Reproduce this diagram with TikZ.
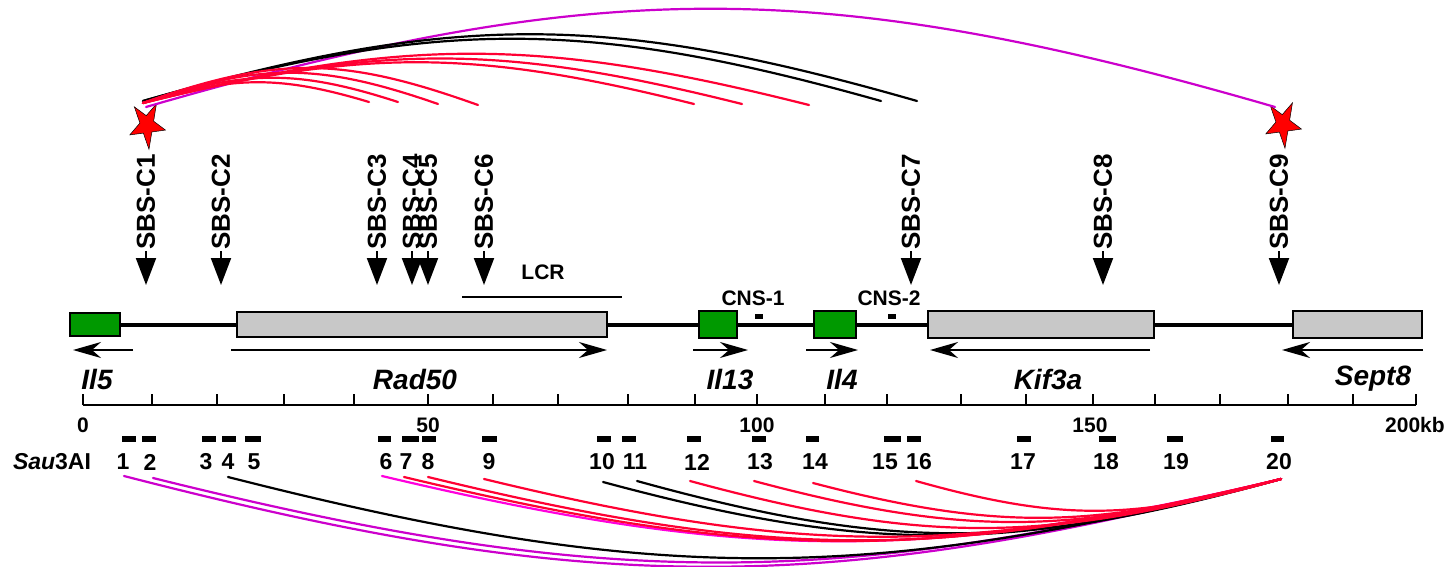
\documentclass[tikz,border=0pt]{standalone}
\usepackage{fontspec}
\setmainfont{Liberation Sans}
\usetikzlibrary{shapes.geometric,arrows.meta}
\definecolor{arcred}{HTML}{FF0033}
\definecolor{arcmag}{HTML}{CC00CC}
\definecolor{arcpink}{HTML}{FF00DD}
\definecolor{genegreen}{HTML}{009900}
\definecolor{genegray}{HTML}{C8C8C8}
\tikzset{
  track/.style={line width=4pt},
  graybox/.style={draw, line width=2pt, fill=genegray, inner sep=0pt},
  greenbox/.style={draw, line width=2pt, fill=genegreen, inner sep=0pt},
  cnsbox/.style={fill=black, inner sep=0pt, minimum width=8pt, minimum height=5pt},
  fragbox/.style={fill=black, inner sep=0pt, minimum height=6pt},
  dirarrow/.style={line width=2pt, -{Stealth[length=28pt,width=16pt,inset=9pt]}},
  sbsarrow/.style={line width=2pt, -{Triangle[length=27pt,width=20pt]}},
  sbslabel/.style={rotate=90, anchor=west, inner sep=1pt, font=\fontsize{26}{26}\selectfont\bfseries},
  genelabel/.style={inner sep=0pt, font=\fontsize{28}{28}\selectfont\bfseries\itshape},
  smalllabel/.style={inner sep=0pt, font=\fontsize{21}{21}\selectfont\bfseries},
  fraglabel/.style={inner sep=0pt, font=\fontsize{23}{23}\selectfont\bfseries},
  loop/.style={line width=2.2pt, line cap=round},
  redloop/.style={loop, draw=arcred},
  magloop/.style={loop, draw=arcmag},
  pinkloop/.style={loop, draw=arcpink},
  blackloop/.style={loop, draw=black},
  sitestar/.style={star, star points=5, star point ratio=2.6, shape border rotate=186,
    fill=red, draw=black, line width=0.5pt, minimum size=46pt, inner sep=0pt,
    xscale=0.82, yscale=1.06},
}
\begin{document}
\begin{tikzpicture}[x=1pt,y=-1pt]
\useasboundingbox (0,0) rectangle (1454,567);

% ---------- gene boxes ----------
\node[greenbox, minimum width=50pt, minimum height=23pt] (il5) at (95,324.5) {};
\node[graybox, minimum width=370pt, minimum height=25pt] (rad50) at (422,324.5) {};
\node[greenbox, minimum width=38pt, minimum height=27pt] (il13) at (718,324.5) {};
\node[greenbox, minimum width=42pt, minimum height=27pt] (il4) at (835,324.5) {};
\node[graybox, minimum width=226pt, minimum height=27pt] (kif3a) at (1041,324.5) {};
\node[graybox, minimum width=129pt, minimum height=27pt] (sept8) at (1357.5,324.5) {};

\draw[track] (il5.east) -- (rad50.west);
\draw[track] (rad50.east) -- (il13.west);
\draw[track] (il13.east) -- (il4.west);
\draw[track] (il4.east) -- (kif3a.west);
\draw[track] (kif3a.east) -- (sept8.west);

% CNS elements
\node[cnsbox] (cns1) at (759,316.5) {};
\node[cnsbox] (cns2) at (891.5,316.5) {};
\node[smalllabel] (cns1lab) at (753,298) {CNS-1};
\node[smalllabel] (cns2lab) at (889,298) {CNS-2};

% LCR
\coordinate (lcrl) at (462,297);
\coordinate (lcrr) at (622,297);
\draw[line width=2pt] (lcrl) -- (lcrr);
\node[smalllabel] (lcrlab) at (543,272) {LCR};

% ---------- transcription direction ----------
\coordinate (d5a) at (133,350);  \coordinate (d5b) at (73,350);
\coordinate (dra) at (231,350);  \coordinate (drb) at (607,350);
\coordinate (d13a) at (693,350); \coordinate (d13b) at (748,350);
\coordinate (d4a) at (806,350);  \coordinate (d4b) at (858,350);
\coordinate (dka) at (1150,350); \coordinate (dkb) at (930,350);
\coordinate (dsa) at (1423,350); \coordinate (dsb) at (1282,350);
\draw[dirarrow] (d5a) -- (d5b);
\draw[dirarrow] (dra) -- (drb);
\draw[dirarrow] (d13a) -- (d13b);
\draw[dirarrow] (d4a) -- (d4b);
\draw[dirarrow] (dka) -- (dkb);
\draw[dirarrow] (dsa) -- (dsb);

\node[genelabel] (l5) at (97,379) {Il5};
\node[genelabel] (lr) at (415,379) {Rad50};
\node[genelabel] (l13) at (730,379) {Il13};
\node[genelabel] (l4) at (842,379) {Il4};
\node[genelabel] (lk) at (1048,379) {Kif3a};
\node[genelabel] (ls) at (1373,379) {Sept8};

% ---------- scale ----------
\coordinate (ax0) at (83,405);
\coordinate (ax1) at (1416,405);
\draw[line width=2.5pt] (ax0) -- (ax1);
\foreach \t in {83,152,217,284,354,428,493,558,628,695,757,825,887,961,1026,1093,1155,1220,1288,1353,1416}
  \draw[line width=2pt] (\t,405) -- (\t,394);
\node[smalllabel] (k0) at (83,425) {0};
\node[smalllabel] (k50) at (428,425) {50};
\node[smalllabel] (k100) at (757,425) {100};
\node[smalllabel] (k150) at (1090,425) {150};
\node[smalllabel, anchor=west] (k200) at (1385,425) {200kb};

% ---------- Sau3AI fragments ----------
\node[fraglabel] (sau) at (52,462) {\textit{Sau}3AI};
\foreach \n/\a/\b/\lx in {1/122/136/123, 2/142/156/150, 3/202/216/206, 4/222/236/228,
   5/245/261/254, 6/378/391/386, 7/402/419/406, 8/422/436/428, 9/482/497/489,
   10/597/611/602, 11/622/636/635, 12/687/701/697, 13/752/766/760, 14/806/819/815,
   15/884/901/885, 16/907/921/919, 17/1017/1031/1023, 18/1099/1116/1106,
   19/1167/1183/1176, 20/1271/1284/1279}{
  \pgfmathsetmacro{\fw}{\b-\a}
  \pgfmathsetmacro{\fx}{(\a+\b)/2}
  \node[fragbox, minimum width=\fw pt] (frag\n) at (\fx,439) {};
  \node[fraglabel] (flab\n) at (\lx,462) {\n};
}

% ---------- SBS sites ----------
\foreach \n/\x in {1/146, 2/221, 3/377, 4/412, 5/428, 6/484, 7/911, 8/1103, 9/1279}{
  \node[sbslabel] (sbs\n) at (\x,251) {SBS-C\n};
  \coordinate (tip\n) at (\x,285);
  \draw[sbsarrow] (sbs\n.west) -- (tip\n);
}

\node[sitestar] (star1) at (147,125) {};
\node[sitestar] (star9) at (1283,124) {};

% ---------- top interaction arcs (from SBS-C1) ----------
\coordinate (ts) at (143,103);
\coordinate (tsb) at (143,101);
\coordinate (tsm) at (146,107);
\coordinate (te1) at (369,102);
\coordinate (te2) at (398,102);
\coordinate (te3) at (438,104);
\coordinate (te4) at (478,105);
\coordinate (te5) at (694,104);
\coordinate (te6) at (742,104);
\coordinate (te7) at (809,105);
\coordinate (teb1) at (881,101);
\coordinate (teb2) at (917,101);
\coordinate (tem) at (1275,107);

\draw[magloop] (tsm) .. controls +(452,-131) and +(-452,-131) .. (tem);
\draw[blackloop] (tsb) .. controls +(295,-83) and +(-295,-83) .. (teb1);
\draw[blackloop] (tsb) .. controls +(310,-89) and +(-310,-89) .. (teb2);
\draw[redloop] (ts) .. controls +(90,-27) and +(-90,-27) .. (te1);
\draw[redloop] (ts) .. controls +(102,-33) and +(-102,-33) .. (te2);
\draw[redloop] (ts) .. controls +(118,-41) and +(-118,-41) .. (te3);
\draw[redloop] (ts) .. controls +(134,-48) and +(-134,-48) .. (te4);
\draw[redloop] (ts) .. controls +(220,-55) and +(-220,-55) .. (te5);
\draw[redloop] (ts) .. controls +(240,-60) and +(-240,-60) .. (te6);
\draw[redloop] (ts) .. controls +(266,-67) and +(-266,-67) .. (te7);

% ---------- bottom interaction arcs (to fragment 20) ----------
\coordinate (be) at (1281,479);
\coordinate (bs1) at (124,476);
\coordinate (bs2) at (153,478);
\coordinate (bs4) at (228,477);
\coordinate (bs6) at (382,476);
\coordinate (bs7) at (404,477);
\coordinate (bs8) at (428,477);
\coordinate (bs9) at (484,479);
\coordinate (bs10) at (603,482);
\coordinate (bs11) at (637,481);
\coordinate (bs12) at (690,481);
\coordinate (bs13) at (754,481);
\coordinate (bs14) at (813,483);
\coordinate (bs16) at (916,481);

\draw[magloop] (bs1) .. controls +(462,119) and +(-462,119) .. (be);
\draw[magloop] (bs2) .. controls +(451,112) and +(-451,112) .. (be);
\draw[blackloop] (bs4) .. controls +(421,107) and +(-421,107) .. (be);
\draw[blackloop] (bs10) .. controls +(271,73) and +(-271,73) .. (be);
\draw[blackloop] (bs11) .. controls +(257,71) and +(-257,71) .. (be);
\draw[pinkloop] (bs6) .. controls +(359,85) and +(-359,85) .. (be);
\draw[redloop] (bs7) .. controls +(350,84) and +(-350,84) .. (be);
\draw[redloop] (bs8) .. controls +(341,83) and +(-341,83) .. (be);
\draw[redloop] (bs9) .. controls +(318,77) and +(-318,77) .. (be);
\draw[redloop] (bs12) .. controls +(236,64) and +(-236,64) .. (be);
\draw[redloop] (bs13) .. controls +(210,56) and +(-210,56) .. (be);
\draw[redloop] (bs14) .. controls +(187,49) and +(-187,49) .. (be);
\draw[redloop] (bs16) .. controls +(146,41) and +(-146,41) .. (be);
\end{tikzpicture}
\end{document}
